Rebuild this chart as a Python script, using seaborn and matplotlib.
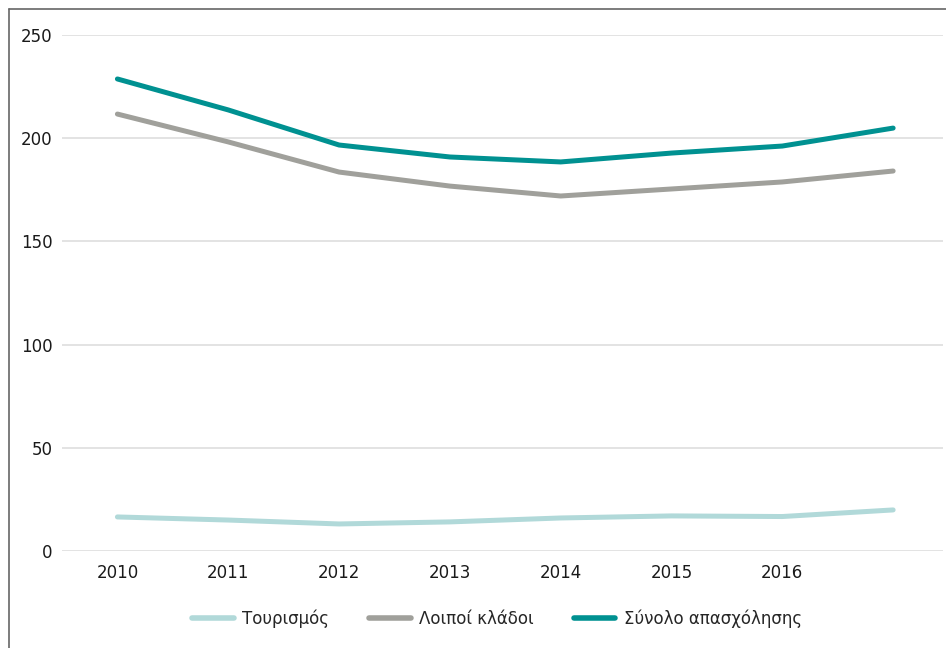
import matplotlib
matplotlib.use("Agg")
import matplotlib.pyplot as plt
from matplotlib.lines import Line2D
import seaborn as sns
import pandas as pd

years = [2010, 2011, 2012, 2013, 2014, 2015, 2016, 2017]
year_labels = ["2010", "2011", "2012", "2013", "2014", "2015", "2016", ""]
tourism = [16.5, 15.0, 13.1, 14.1, 16.0, 17.0, 16.7, 19.9]
other_sectors = [211.7, 198.2, 183.6, 176.8, 172.0, 175.4, 178.8, 184.1]
total_employment = [228.7, 213.7, 196.7, 190.9, 188.5, 192.8, 196.2, 204.9]

series_names = ["Τουρισμός", "Λοιποί κλάδοι", "Σύνολο απασχόλησης"]
series_colors = ["#b1d9d9", "#a0a09b", "#009191"]

rows = []
for name, vals in zip(series_names, [tourism, other_sectors, total_employment]):
    for i, v in enumerate(vals):
        rows.append({"pos": i, "value": v, "series": name})
df = pd.DataFrame(rows)

sns.set_theme(style="white")
plt.rcParams["font.family"] = ["DejaVu Sans"]

fig = plt.figure(figsize=(9.46, 6.48), dpi=100)
ax = fig.add_axes([62 / 946, 1 - 551 / 648, (943 - 62) / 946, (551 - 35) / 648])

sns.lineplot(data=df, x="pos", y="value", hue="series", hue_order=series_names,
             palette=series_colors, linewidth=3.6, ax=ax, legend=False,
             solid_capstyle="round")

ax.set_xlim(-0.5, 7.45)
ax.set_ylim(0, 250)
ax.set_yticks([0, 50, 100, 150, 200, 250])
ax.set_xticks(range(len(years)))
ax.set_xticklabels(year_labels)
ax.grid(axis="y", color="#dedede", linewidth=1.2)
ax.grid(axis="x", visible=False)
for s in ax.spines.values():
    s.set_visible(False)
ax.tick_params(axis="both", length=0, labelsize=12, colors="#1a1a1a")
ax.tick_params(axis="x", pad=9)
ax.tick_params(axis="y", pad=7)
ax.set_xlabel("")
ax.set_ylabel("")

# outer frame (top and left edges)
fig.add_artist(Line2D([9 / 946, 9 / 946], [0, 1 - 9 / 648], color="#666666", linewidth=1.2))
fig.add_artist(Line2D([9 / 946, 1], [1 - 9 / 648, 1 - 9 / 648], color="#666666", linewidth=1.2))

handles = [Line2D([0], [0], color=c, linewidth=4.0, solid_capstyle="round") for c in series_colors]
fig.legend(handles, series_names, loc="center", bbox_to_anchor=(497 / 946, 1 - 619 / 648),
           ncol=3, frameon=False, fontsize=12, handlelength=2.5, columnspacing=2.4,
           handletextpad=0.5)

fig.savefig("out.png", dpi=100)
